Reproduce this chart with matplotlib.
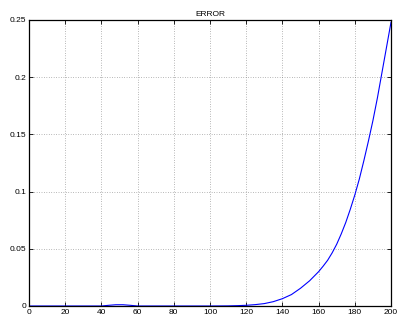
import matplotlib
matplotlib.use('Agg')
import matplotlib.pyplot as plt

# error curve (x, error)
x_vals = [0, 10, 20, 30, 40, 44, 48, 52, 56, 60, 70, 80, 90, 100, 110, 115,
          120, 125, 130, 135, 140, 145, 150, 155, 160, 162.5, 165, 167.5,
          170, 172.5, 175, 177.5, 180, 182.5, 185, 187.5, 190, 192.5, 195,
          197.5, 200]
err_vals = [0, 0, 0, 0, 0, 0.0006, 0.0011, 0.0011, 0.0006, 0, 0, 0, 0, 0,
            0.0001, 0.0003, 0.0006, 0.0012, 0.0021, 0.0038, 0.0064, 0.0100,
            0.0155, 0.0220, 0.030, 0.0348, 0.040, 0.0465, 0.054, 0.063,
            0.073, 0.0845, 0.097, 0.111, 0.127, 0.144, 0.162, 0.182,
            0.204, 0.226, 0.248]

x_ticks = list(range(0, 201, 20))
y_ticks = [0, 0.05, 0.1, 0.15, 0.2, 0.25]
y_labels = ['0', '0.05', '0.1', '0.15', '0.2', '0.25']

plt.rcParams['font.family'] = ['Liberation Sans', 'DejaVu Sans']

fig = plt.figure(figsize=(3.97, 3.22), dpi=100)
ax = fig.add_axes([29 / 397, 16 / 322, 362 / 397, 286 / 322])

ax.plot(x_vals, err_vals, color='#0000ff', linewidth=0.8)

ax.set_xlim(0, 200)
ax.set_ylim(0, 0.25)
ax.set_xticks(x_ticks)
ax.set_yticks(y_ticks)
ax.set_yticklabels(y_labels)
ax.tick_params(direction='in', top=True, right=True, length=3, width=0.6,
               labelsize=6, pad=2)
ax.grid(True, linestyle=(0, (1, 2.5)), color='#777777', linewidth=0.5)
for s in ax.spines.values():
    s.set_linewidth(0.9)

ax.set_title('ERROR', fontsize=6, pad=3)

fig.savefig('out.png', dpi=100)
